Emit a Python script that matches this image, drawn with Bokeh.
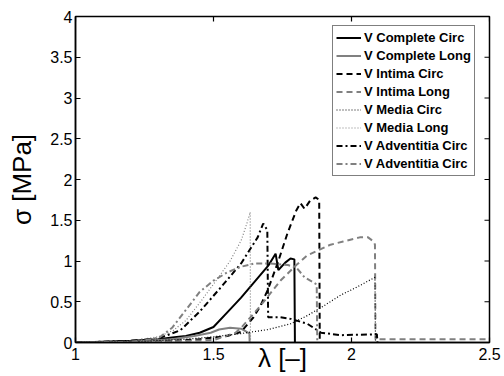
import math
from bokeh.plotting import figure
from bokeh.models import Range1d, FixedTicker, Legend, LegendItem
from bokeh.embed import file_html
from bokeh.resources import INLINE

# ---- data ----
x_ticks = [1, 1.5, 2, 2.5]
x_tick_labels = ["1", "1.5", "2", "2.5"]
y_ticks = [0, 0.5, 1, 1.5, 2, 2.5, 3, 3.5, 4]
y_tick_labels = ["0", "0.5", "1", "1.5", "2", "2.5", "3", "3.5", "4"]

series_names = ["V Complete Circ", "V Complete Long", "V Intima Circ", "V Intima Long",
                "V Media Circ", "V Media Long", "V Adventitia Circ", "V Adventitia Circ"]

complete_circ_x = [1.0, 1.1, 1.2, 1.3, 1.35, 1.4, 1.45, 1.5, 1.55, 1.6, 1.65, 1.7, 1.725, 1.735, 1.76, 1.779, 1.793, 1.795]
complete_circ_y = [0.0, 0.01, 0.02, 0.04, 0.06, 0.08, 0.12, 0.19, 0.37, 0.55, 0.75, 0.95, 1.09, 0.89, 0.98, 1.03, 1.02, 0.0]

complete_long_x = [1.0, 1.2, 1.35, 1.43, 1.49, 1.52, 1.56, 1.6, 1.625, 1.63, 1.631]
complete_long_y = [0.0, 0.01, 0.04, 0.08, 0.12, 0.16, 0.18, 0.17, 0.12, 0.11, 0.0]

intima_circ_x = [1.0, 1.3, 1.45, 1.55, 1.6, 1.645, 1.67, 1.696, 1.732, 1.768, 1.80, 1.815, 1.83, 1.85, 1.87, 1.883, 1.885]
intima_circ_y = [0.0, 0.01, 0.04, 0.08, 0.13, 0.31, 0.45, 0.64, 0.97, 1.34, 1.62, 1.71, 1.64, 1.74, 1.78, 1.75, 0.0]

intima_long_x = [1.0, 1.3, 1.5, 1.58, 1.6, 1.67, 1.743, 1.80, 1.84, 1.924, 1.97, 2.03, 2.06, 2.08, 2.085, 2.087, 2.5]
intima_long_y = [0.0, 0.01, 0.03, 0.12, 0.18, 0.45, 0.76, 0.95, 1.07, 1.20, 1.24, 1.29, 1.29, 1.24, 1.2, 0.04, 0.04]

media_circ_x = [1.0, 1.2, 1.4, 1.5, 1.6, 1.7, 1.78, 1.84, 1.9, 1.96, 2.02, 2.085, 2.087]
media_circ_y = [0.0, 0.01, 0.04, 0.07, 0.11, 0.16, 0.23, 0.33, 0.45, 0.58, 0.68, 0.80, 0.0]

media_long_x = [1.0, 1.2, 1.3, 1.355, 1.4, 1.453, 1.514, 1.56, 1.6, 1.62, 1.633, 1.634]
media_long_y = [0.0, 0.02, 0.07, 0.15, 0.27, 0.50, 0.78, 1.0, 1.25, 1.45, 1.6, 0.0]

adventitia_circ_x = [1.0, 1.2, 1.3, 1.38, 1.45, 1.525, 1.6, 1.66, 1.68, 1.695, 1.698, 1.74, 1.78, 1.84, 1.89, 1.96, 2.08, 2.092, 2.094]
adventitia_circ_y = [0.0, 0.02, 0.05, 0.15, 0.38, 0.67, 0.97, 1.29, 1.46, 1.38, 0.31, 0.31, 0.29, 0.23, 0.12, 0.09, 0.10, 0.10, 0.0]

adventitia_long_x = [1.0, 1.2, 1.3, 1.35, 1.4, 1.45, 1.5, 1.55, 1.6, 1.65, 1.7, 1.77, 1.8, 1.83, 1.87, 1.874, 1.876]
adventitia_long_y = [0.0, 0.01, 0.05, 0.18, 0.40, 0.62, 0.76, 0.86, 0.93, 0.97, 0.97, 0.95, 0.92, 0.80, 0.72, 0.70, 0.0]

BLACK = "#000000"
GRAY = "#808080"
FONT = "Liberation Sans"
X_MIN, X_MAX, Y_MIN, Y_MAX = 1, 2.5, 0, 4

p = figure(width=504, height=376, output_backend="svg", toolbar_location=None,
           x_range=Range1d(X_MIN, X_MAX), y_range=Range1d(Y_MIN, Y_MAX),
           min_border_left=75, min_border_right=15, min_border_top=16, min_border_bottom=34)
p.background_fill_color = "white"
p.border_fill_color = "white"
p.outline_line_color = "black"
p.outline_line_width = 1.5
p.grid.visible = False

series = [
    (complete_circ_x, complete_circ_y, BLACK, "solid", 2),
    (complete_long_x, complete_long_y, GRAY, "solid", 2),
    (intima_circ_x, intima_circ_y, BLACK, "6 4", 2),
    (intima_long_x, intima_long_y, GRAY, "6 4", 2),
    (media_circ_x, media_circ_y, BLACK, "1 2", 1.2),
    (media_long_x, media_long_y, GRAY, "1 2", 1.2),
    (adventitia_circ_x, adventitia_circ_y, BLACK, "6 3 2 3", 2),
    (adventitia_long_x, adventitia_long_y, GRAY, "6 3 2 3", 2),
]
items = []
for (xs, ys, c, dash, w), name in zip(series, series_names):
    r = p.line(xs, ys, line_color=c, line_dash=dash, line_width=w)
    items.append(LegendItem(label=name, renderers=[r]))

# inward ticks on the right and top edges (MATLAB-style box)
p.ray(x=[X_MAX] * len(y_ticks), y=y_ticks, length=5, length_units="screen",
      angle=math.pi, line_color="black", line_width=1.2)
p.ray(x=x_ticks, y=[Y_MAX] * len(x_ticks), length=5, length_units="screen",
      angle=-math.pi / 2, line_color="black", line_width=1.2)

xa = p.xaxis[0]
ya = p.yaxis[0]
xa.ticker = FixedTicker(ticks=x_ticks)
ya.ticker = FixedTicker(ticks=y_ticks)
xa.major_label_overrides = {t: l for t, l in zip(x_ticks, x_tick_labels)}
ya.major_label_overrides = {t: l for t, l in zip(y_ticks, y_tick_labels)}
for ax in (xa, ya):
    ax.axis_line_color = "black"
    ax.axis_line_width = 1.5
    ax.major_tick_in = 5
    ax.major_tick_out = 0
    ax.major_tick_line_width = 1.2
    ax.minor_tick_line_color = None
    ax.major_label_text_font = FONT
    ax.major_label_text_color = "black"
    ax.major_label_text_font_size = "16px"
    ax.axis_label_text_font = FONT
    ax.axis_label_text_font_style = "normal"
    ax.axis_label_text_font_size = "26px"
    ax.axis_label_text_color = "black"
xa.major_label_standoff = 5
ya.major_label_standoff = 3
xa.axis_label = "λ [–]"
ya.axis_label = "σ [MPa]"
xa.axis_label_standoff = -20
ya.axis_label_standoff = 10

legend = Legend(items=items, location=(257, 166))
legend.border_line_color = "black"
legend.border_line_width = 1.2
legend.background_fill_color = "white"
legend.background_fill_alpha = 1
legend.label_text_font = FONT
legend.label_text_font_style = "bold"
legend.label_text_font_size = "13px"
legend.label_text_color = "black"
legend.label_standoff = 3
legend.glyph_width = 25
legend.glyph_height = 17
legend.label_height = 17
legend.spacing = 1
legend.padding = 3
legend.margin = 0
p.add_layout(legend)

open("out.html", "w").write(file_html(p, INLINE))
